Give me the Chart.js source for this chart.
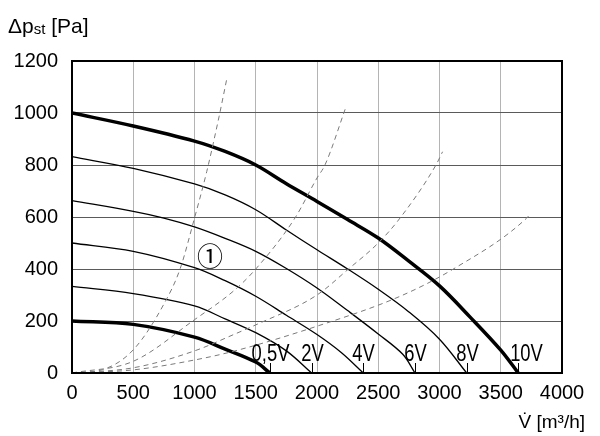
<!DOCTYPE html>
<html>
<head>
<meta charset="utf-8">
<script src="https://cdn.jsdelivr.net/npm/chart.js@4.4.1/dist/chart.umd.min.js"></script>
<style>
  html, body { margin: 0; padding: 0; background: #fff; }
</style>
</head>
<body>
<canvas id="chart" width="600" height="436"></canvas>
<script>
// Fan curves: volume flow [m3/h] vs static pressure [Pa] at control voltages
const curveNames = ['0,5V', '2V', '4V', '6V', '8V', '10V'];

const q05 = [0, 500, 1000, 1250, 1500, 1616];
const p05 = [200, 187, 138, 92, 42, 0];

const q2 = [0, 500, 1000, 1250, 1500, 1750, 1956];
const p2 = [333, 305, 258, 208, 155, 85, 0];

const q4 = [0, 500, 1000, 1250, 1500, 1750, 2000, 2200, 2378];
const p4 = [500, 468, 405, 355, 295, 222, 148, 78, 0];

const q6 = [0, 500, 750, 1000, 1250, 1500, 1750, 2000, 2250, 2500, 2700, 2800];
const p6 = [663, 622, 596, 562, 518, 468, 402, 327, 240, 150, 72, 0];

const q8 = [0, 500, 1000, 1250, 1500, 1750, 2000, 2250, 2500, 2750, 3000, 3222];
const p8 = [832, 787, 727, 685, 628, 550, 474, 400, 322, 235, 130, 0];

const q10 = [0, 500, 1000, 1250, 1500, 1750, 2000, 2250, 2500, 2750, 3000, 3250, 3500, 3643];
const p10 = [1000, 950, 892, 852, 800, 728, 660, 590, 519, 430, 335, 215, 88, 0];

// System curves (dashed)
const qs1 = [0, 250, 500, 750, 882, 1000, 1100, 1200, 1263];
const ps1 = [0, 13, 89, 265, 400, 596, 775, 985, 1130];

const qs2 = [0, 500, 1000, 1330, 1500, 1820, 2000, 2065, 2237];
const ps2 = [0, 45, 205, 320, 400, 596, 750, 800, 1024];

const qs3 = [0, 500, 1000, 1330, 1500, 2000, 2257, 2500, 2678, 2971, 3025];
const ps3 = [0, 20, 85, 150, 185, 300, 400, 500, 596, 800, 851];

const qs4 = [0, 500, 1000, 1330, 2000, 2678, 3113, 3712, 3739];
const ps4 = [0, 12, 50, 85, 180, 295, 400, 596, 611];

const xTicks = [0, 500, 1000, 1500, 2000, 2500, 3000, 3500, 4000];
const yTicks = [0, 200, 400, 600, 800, 1000, 1200];

const FONT = '"Liberation Sans", Arial, sans-serif';

function pts(xs, ys) { return xs.map((x, i) => ({ x, y: ys[i] })); }

const fanCurves = [[q05, p05], [q2, p2], [q4, p4], [q6, p6], [q8, p8], [q10, p10]];
const systemCurves = [[qs1, ps1], [qs2, ps2], [qs3, ps3], [qs4, ps4]];

const datasets = [];
systemCurves.forEach(([xs, ys]) => {
  datasets.push({
    data: pts(xs, ys), showLine: true, pointRadius: 0,
    borderColor: '#7a7a7a', borderWidth: 1, borderDash: [5, 4],
    cubicInterpolationMode: 'monotone', fill: false
  });
});
fanCurves.forEach(([xs, ys], i) => {
  const thick = i === 0 || i === fanCurves.length - 1;
  datasets.push({
    data: pts(xs, ys), showLine: true, pointRadius: 0,
    borderColor: '#000', borderWidth: thick ? 3.5 : 1.3,
    tension: 0.35, fill: false
  });
});

// condensed text: squeeze horizontally like the original narrow typeface
function narrowText(ctx, text, cx, cy, squeeze) {
  ctx.save();
  ctx.translate(cx, cy);
  ctx.scale(squeeze, 1);
  ctx.fillText(text, 0, 0);
  ctx.restore();
}

const decor = {
  id: 'decor',
  afterDraw(chart) {
    const { ctx, chartArea: a, scales: { x, y } } = chart;
    ctx.save();

    // voltage marks at the end of each fan curve
    ctx.strokeStyle = '#000';
    ctx.lineWidth = 1;
    ctx.fillStyle = '#000';
    ctx.font = '23px ' + FONT;
    ctx.textAlign = 'center';
    ctx.textBaseline = 'alphabetic';
    fanCurves.forEach(([xs], i) => {
      const px = Math.round(x.getPixelForValue(xs[xs.length - 1])) + 0.5;
      ctx.beginPath();
      ctx.moveTo(px, a.bottom);
      ctx.lineTo(px, a.bottom - 10);
      ctx.stroke();
      const shift = i === fanCurves.length - 1 ? 8 : 0;
      narrowText(ctx, curveNames[i], px + shift, a.bottom - 12, 0.8);
    });

    // circled marker
    ctx.font = '26px "Noto Sans CJK JP", "DejaVu Sans", sans-serif';
    ctx.textBaseline = 'middle';
    ctx.fillText('①', x.getPixelForValue(1127), y.getPixelForValue(450));

    // frame
    ctx.lineWidth = 2;
    ctx.strokeRect(a.left, a.top, a.right - a.left, a.bottom - a.top);

    // axis titles
    ctx.textAlign = 'left';
    ctx.textBaseline = 'alphabetic';
    ctx.font = '21px ' + FONT;
    ctx.fillText('Δp', 8, 33);
    let w = ctx.measureText('Δp').width;
    ctx.font = '15px ' + FONT;
    ctx.fillText('st', 8 + w, 34);
    w += ctx.measureText('st').width;
    ctx.font = '21px ' + FONT;
    ctx.fillText(' [Pa]', 8 + w, 33);

    ctx.font = '19px ' + FONT;
    ctx.textAlign = 'right';
    ctx.fillText('V̇ [m³/h]', 585, 428);
    ctx.restore();
  }
};

new Chart(document.getElementById('chart'), {
  type: 'scatter',
  data: { datasets },
  options: {
    responsive: false,
    animation: false,
    events: [],
    layout: { padding: { top: 61, right: 38, left: 0, bottom: 0 } },
    plugins: { legend: { display: false }, tooltip: { enabled: false } },
    scales: {
      x: {
        type: 'linear', min: 0, max: 4000,
        afterBuildTicks: s => { s.ticks = xTicks.map(v => ({ value: v })); },
        afterFit: s => { s.height = 63; },
        ticks: { color: '#000', font: { family: FONT, size: 20 }, padding: 8, maxRotation: 0, callback: v => String(v) },
        grid: { color: '#b4b4b4', drawTicks: false },
        border: { display: false }
      },
      y: {
        type: 'linear', min: 0, max: 1200,
        afterBuildTicks: s => { s.ticks = yTicks.map(v => ({ value: v })); },
        afterFit: s => { s.width = 72; },
        ticks: { color: '#000', font: { family: FONT, size: 20 }, padding: 14, callback: v => String(v) },
        grid: { color: '#5a5a5a', drawTicks: false },
        border: { display: false }
      }
    }
  },
  plugins: [decor]
});
</script>
</body>
</html>
